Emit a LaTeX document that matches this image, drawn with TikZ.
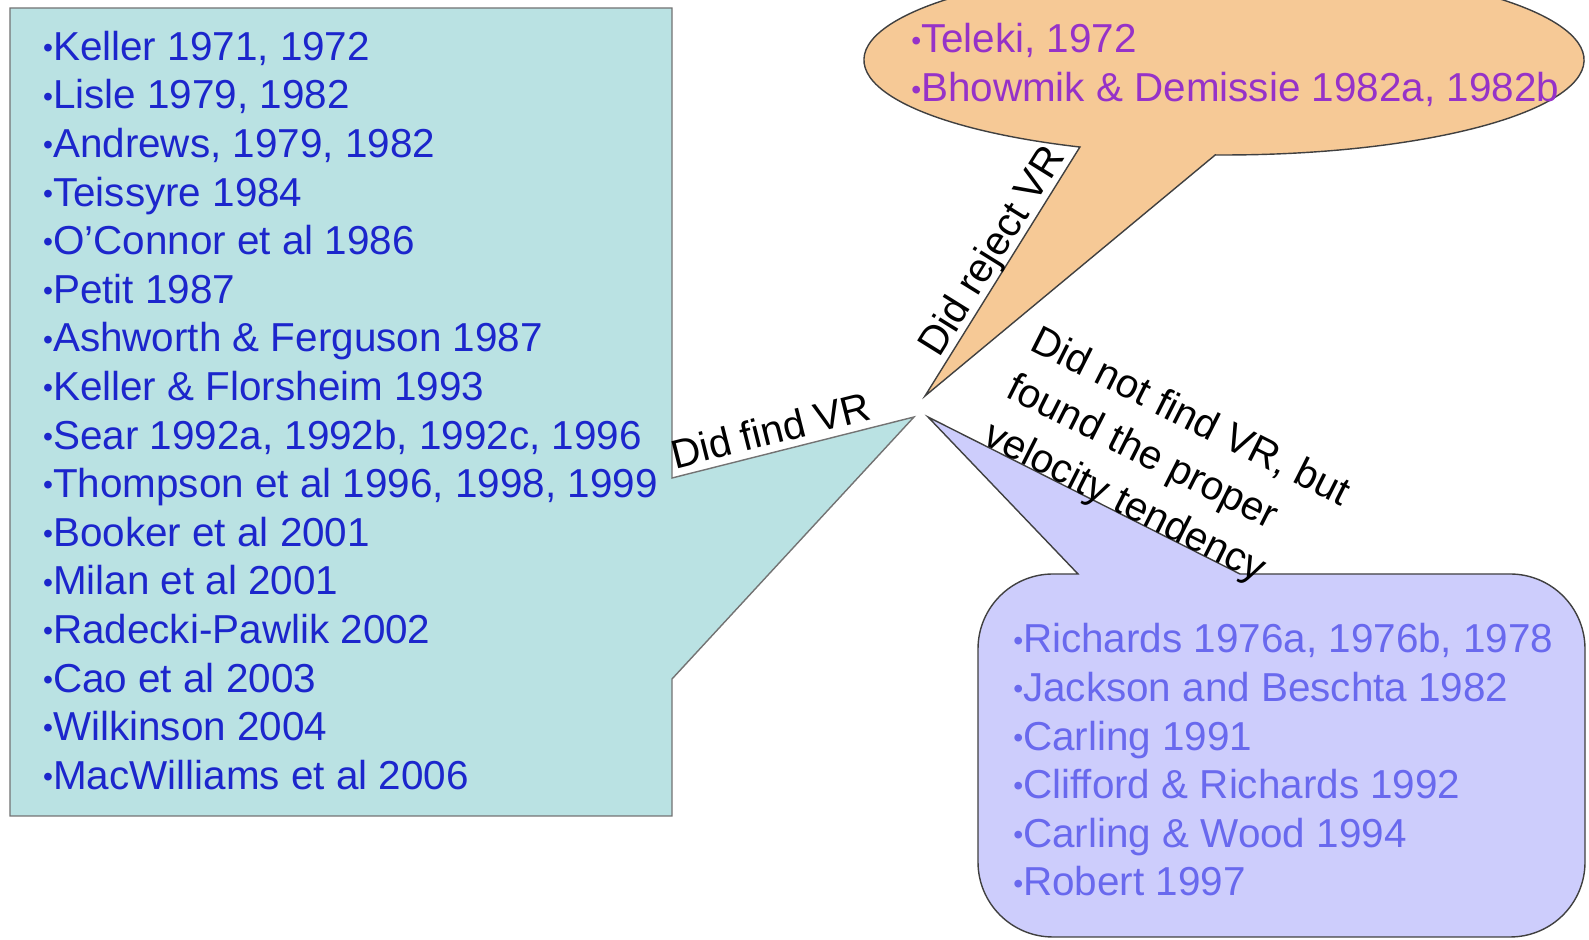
\documentclass[tikz,border=0pt]{standalone}
\usepackage{fontspec}
\setmainfont{Liberation Sans}

\definecolor{tealfill}{RGB}{186,226,227}
\definecolor{findblue}{RGB}{28,38,204}
\definecolor{peach}{RGB}{246,201,150}
\definecolor{rejectpurple}{RGB}{150,50,200}
\definecolor{lavender}{RGB}{205,205,252}
\definecolor{tendblue}{RGB}{105,105,238}

% small bullet, as in the slide
\newcommand{\dotmark}{\makebox[0.35em][r]{\raisebox{0.07em}{\scalebox{0.7}{•}}}}

\begin{document}
\begin{tikzpicture}[
    font=\fontsize{23pt}{27.65pt}\selectfont,
    outline/.style={draw=black!75, line width=0.8pt},
    entry/.style={anchor=base west, inner sep=0pt, outer sep=0pt},
    tag/.style={inner sep=0pt, outer sep=0pt, text depth=0pt, sloped, align=left,
                font=\fontsize{23pt}{30pt}\selectfont}
  ]

    % --- page
    \useasboundingbox (0,0) rectangle (31.78,18.8);
    \clip (0,0) rectangle (31.78,18.8);

    % --- ends of the three pointers
    \coordinate (tealtip) at (18.28,10.46);
    \coordinate (tealup) at (13.44,9.24);
    \coordinate (teallow) at (13.44,5.22);
    \coordinate (peachtip) at (18.5,10.88);
    \coordinate (peachctr) at (24.48,17.6);
    \coordinate (lavtip) at (18.56,10.46);
    \coordinate (lavleft) at (21.56,7.32);
    \coordinate (lavright) at (24.8,7.32);

    % --- Box on the left (did find VR)
    \draw[outline, draw=black!55, fill=tealfill] (0.2,18.64) -- (13.44,18.64) -- (tealup)
        -- (tealtip) -- (teallow) -- (13.44,2.48) -- (0.2,2.48) -- cycle;

    % --- Ellipse on top (did reject VR)
    \draw[outline, fill=peach] (peachctr) ++(246.4:7.2 and 1.9) coordinate (peachleft)
        arc[start angle=246.4, end angle=-91.4, x radius=7.2, y radius=1.9]
        -- (peachtip) -- cycle;

    % --- Rounded box at the bottom (velocity tendency)
    \draw[outline, fill=lavender] (lavleft) -- (lavtip) -- (lavright)
        -- (30.2,7.32) arc[start angle=90, end angle=0, radius=1.5]
        -- (31.7,1.56) arc[start angle=0, end angle=-90, radius=1.5]
        -- (21.06,0.06) arc[start angle=-90, end angle=-180, radius=1.5]
        -- (19.56,5.82) arc[start angle=180, end angle=90, radius=1.5] -- cycle;

    % --- References
    \foreach \item [count=\i] in {{Keller 1971, 1972}, {Lisle 1979, 1982},
        {Andrews, 1979, 1982}, {Teissyre 1984}, {O’Connor et al 1986}, {Petit 1987},
        {Ashworth \& Ferguson 1987}, {Keller \& Florsheim 1993},
        {Sear 1992a, 1992b, 1992c, 1996}, {Thompson et al 1996, 1998, 1999},
        {Booker et al 2001}, {Milan et al 2001}, {Radecki-Pawlik 2002},
        {Cao et al 2003}, {Wilkinson 2004}, {MacWilliams et al 2006}}
        \node[entry, text=findblue] (find\i) at (0.78,{17.594-0.972*(\i-1)}) {\dotmark\item};

    \foreach \item [count=\i] in {{Teleki, 1972}, {Bhowmik \& Demissie 1982a, 1982b}}
        \node[entry, text=rejectpurple] (reject\i) at (18.14,{17.74-0.98*(\i-1)}) {\dotmark\item};

    \foreach \item [count=\i] in {{Richards 1976a, 1976b, 1978}, {Jackson and Beschta 1982},
        {Carling 1991}, {Clifford \& Richards 1992}, {Carling \& Wood 1994}, {Robert 1997}}
        \node[entry, text=tendblue] (tend\i) at (20.18,{5.74-0.972*(\i-1)}) {\dotmark\item};

    % --- Labels along the pointers
    \path (tealup) -- (tealtip) node[tag, pos=0.43, above=4.5pt] (findlbl) {Did find VR};
    \path (peachtip) -- (peachleft) node[tag, pos=0.54, above=4pt] (rejectlbl) {Did reject VR};
    \path (lavtip) -- (lavright) node[tag, pos=0.17, anchor=south west] (tendlbl)
        {Did not find VR, but\\found the proper\\velocity tendency};

\end{tikzpicture}
\end{document}
